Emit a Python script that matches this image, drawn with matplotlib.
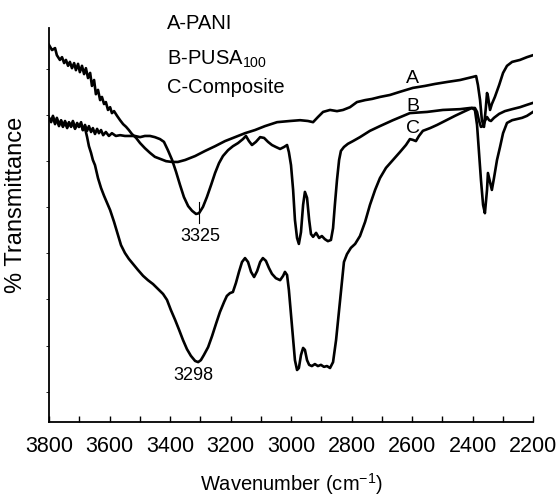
import numpy as np
import matplotlib
matplotlib.use('Agg')
import matplotlib.pyplot as plt

plt.rcParams['font.family'] = ['Liberation Sans', 'DejaVu Sans']
plt.rcParams['mathtext.default'] = 'regular'

# spectrum A - PANI (wavenumber cm-1, % transmittance, arbitrary offset)
wn_a = [3800, 3790, 3780, 3774, 3764, 3757, 3750, 3744, 3737, 3731, 3724, 3717, 3711, 3704,
        3698, 3691, 3684, 3678, 3671, 3664, 3658, 3651, 3645, 3638, 3631, 3625, 3618, 3612,
        3605, 3598, 3592, 3585, 3575, 3565, 3555, 3545, 3536, 3526, 3512, 3499, 3483, 3466,
        3450, 3433, 3413, 3393, 3374, 3350, 3317, 3284, 3251, 3218, 3185, 3152, 3119, 3086,
        3046, 3003, 2970, 2944, 2927, 2911, 2894, 2871, 2848, 2828, 2805, 2782, 2755, 2732,
        2706, 2673, 2640, 2597, 2557, 2524, 2484, 2441, 2398, 2388, 2382, 2375, 2369, 2362,
        2356, 2352, 2349, 2342, 2336, 2326, 2312, 2299, 2286, 2269, 2243, 2220, 2200]
t_a = [95.7, 94.4, 94.9, 93.1, 91.9, 92.6, 91.1, 91.9, 90.4, 91.4, 89.8, 91.1, 89.3, 90.9,
       88.8, 90.4, 88.3, 89.8, 87.3, 88.6, 85.3, 86.8, 83.2, 84.3, 81.7, 82.5, 80.7, 81.2,
       79.2, 79.9, 78.4, 78.9, 77.7, 76.6, 75.6, 74.9, 74.1, 73.1, 72.1, 70.8, 69.5, 68.3,
       67.3, 66.8, 66.2, 66.0, 66.0, 66.5, 67.5, 68.8, 70.0, 71.3, 72.3, 73.3, 74.1, 75.1,
       76.1, 76.4, 76.6, 76.4, 76.1, 77.4, 78.7, 79.2, 78.9, 79.2, 79.9, 81.2, 81.7, 82.0,
       82.5, 83.0, 83.8, 84.8, 85.3, 85.8, 86.3, 86.8, 87.6, 87.8, 85.5, 81.7, 76.6, 74.9,
       79.7, 83.5, 82.7, 79.2, 80.7, 82.5, 85.5, 88.6, 90.4, 91.4, 91.9, 92.6, 93.1]

# spectrum B - PUSA100
wn_b = [3800, 3793, 3787, 3780, 3774, 3767, 3760, 3754, 3747, 3740, 3734, 3727, 3721, 3714,
        3707, 3701, 3694, 3688, 3681, 3674, 3668, 3661, 3655, 3648, 3641, 3635, 3628, 3621,
        3612, 3602, 3592, 3579, 3565, 3549, 3532, 3516, 3499, 3483, 3466, 3450, 3433, 3420,
        3407, 3393, 3380, 3367, 3354, 3340, 3327, 3314, 3304, 3291, 3278, 3264, 3251, 3238,
        3225, 3208, 3192, 3175, 3159, 3149, 3139, 3129, 3116, 3102, 3089, 3076, 3063, 3050,
        3036, 3023, 3013, 3007, 3000, 2993, 2987, 2980, 2974, 2967, 2960, 2954, 2947, 2940,
        2934, 2927, 2917, 2907, 2898, 2888, 2878, 2868, 2861, 2855, 2848, 2841, 2835, 2825,
        2812, 2795, 2772, 2739, 2706, 2663, 2607, 2550, 2498, 2441, 2408, 2392, 2385, 2379,
        2372, 2365, 2359, 2352, 2345, 2339, 2329, 2312, 2293, 2269, 2243, 2220, 2200]
t_b = [77.2, 76.1, 77.7, 75.6, 76.9, 75.1, 76.4, 74.9, 76.1, 74.6, 75.9, 74.9, 76.1, 74.4,
       75.6, 74.9, 76.1, 74.1, 75.4, 73.9, 75.1, 73.6, 74.6, 73.1, 74.4, 73.3, 74.1, 72.8,
       73.6, 72.6, 73.3, 72.6, 72.8, 72.6, 72.6, 72.6, 72.3, 72.6, 72.6, 72.3, 71.8, 71.1,
       69.0, 66.5, 63.5, 60.2, 57.1, 54.8, 53.6, 52.8, 53.0, 54.6, 57.1, 60.2, 63.2, 65.7,
       67.5, 69.0, 70.0, 70.8, 71.8, 72.6, 71.3, 70.3, 71.1, 72.3, 72.1, 71.1, 70.3, 69.8,
       69.3, 69.8, 70.3, 68.5, 65.2, 58.9, 51.3, 46.7, 45.2, 48.2, 55.1, 58.4, 56.9, 51.3,
       47.7, 47.0, 48.0, 46.7, 47.2, 46.4, 45.9, 46.2, 49.2, 55.1, 61.4, 66.5, 68.8, 69.8,
       70.6, 71.3, 72.3, 73.9, 75.1, 76.6, 78.4, 78.7, 79.2, 79.4, 79.7, 79.7, 78.7, 76.6,
       74.9, 75.1, 76.4, 77.4, 76.6, 76.4, 77.2, 78.2, 78.9, 79.4, 79.9, 80.5, 81.0]

# spectrum C - composite
wn_c = [3800, 3793, 3787, 3780, 3774, 3767, 3760, 3754, 3747, 3740, 3734, 3727, 3721, 3714,
        3707, 3701, 3694, 3688, 3681, 3674, 3668, 3661, 3655, 3648, 3638, 3628, 3618, 3608,
        3598, 3585, 3572, 3562, 3549, 3536, 3522, 3506, 3489, 3473, 3456, 3440, 3423, 3410,
        3397, 3383, 3370, 3357, 3344, 3331, 3317, 3307, 3298, 3288, 3274, 3261, 3248, 3235,
        3221, 3212, 3202, 3192, 3182, 3172, 3162, 3152, 3142, 3132, 3122, 3112, 3102, 3093,
        3083, 3073, 3063, 3050, 3036, 3026, 3020, 3013, 3007, 3000, 2993, 2987, 2980, 2974,
        2967, 2960, 2954, 2947, 2940, 2931, 2921, 2911, 2901, 2891, 2881, 2871, 2861, 2851,
        2841, 2831, 2825, 2815, 2802, 2788, 2772, 2755, 2739, 2722, 2706, 2686, 2663, 2640,
        2620, 2607, 2597, 2587, 2577, 2564, 2540, 2517, 2491, 2458, 2425, 2402, 2392, 2385,
        2379, 2372, 2365, 2359, 2352, 2349, 2342, 2336, 2329, 2319, 2309, 2299, 2286, 2269,
        2253, 2236, 2220, 2200]
t_c = [77.2, 76.4, 77.4, 75.9, 77.2, 75.4, 76.6, 75.1, 76.4, 74.9, 76.1, 75.1, 76.4, 74.6,
       75.9, 74.9, 75.6, 74.1, 74.6, 72.3, 70.0, 68.3, 66.5, 65.2, 61.9, 59.4, 57.4, 55.6,
       53.8, 50.8, 47.5, 44.9, 42.9, 41.4, 40.1, 38.6, 37.1, 36.0, 35.0, 33.8, 32.5, 31.0,
       28.4, 25.9, 23.4, 20.8, 18.5, 16.8, 15.5, 15.2, 15.7, 17.0, 19.0, 21.8, 24.9, 27.9,
       30.5, 32.0, 32.7, 33.0, 35.3, 38.1, 40.6, 41.6, 40.6, 38.1, 36.8, 38.3, 40.6, 41.6,
       40.9, 39.1, 37.6, 36.5, 36.0, 37.1, 38.1, 37.3, 33.5, 27.2, 20.8, 15.7, 13.2, 13.7,
       17.0, 18.8, 18.3, 15.7, 14.5, 14.2, 14.7, 14.2, 14.5, 14.0, 14.2, 13.7, 15.2, 20.8,
       28.4, 36.0, 40.6, 42.6, 44.2, 45.2, 47.2, 50.8, 55.1, 58.9, 61.9, 64.5, 66.5, 68.5,
       70.3, 71.8, 71.6, 71.3, 72.6, 73.9, 74.6, 75.4, 76.4, 77.7, 78.9, 79.7, 79.2, 75.4,
       69.0, 61.4, 55.1, 53.0, 58.9, 63.2, 60.9, 58.9, 61.9, 66.5, 69.8, 73.3, 75.9, 76.6,
       76.9, 77.2, 77.7, 78.7]

# peak annotations
peak_labels = ['3325', '3298']
peak_wn = [3300, 3324]
peak_t = [47.0, 11.9]
mark_wn = 3304
mark_t = [55.8, 50.5]

# curve letters
curve_names = ['A', 'B', 'C']
curve_name_t = [87.3, 80.0, 74.6]
curve_name_wn = 2597

legend_lines = ['A-PANI', 'B-PUSA$_{100}$', 'C-Composite']
legend_t = [99.7, 90.6, 83.5]
legend_wn = 3410

fig = plt.figure(figsize=(5.58, 4.96), dpi=100)
ax = fig.add_axes([49 / 558, 74 / 496, 484 / 558, 394 / 496])

for wn, t in [(wn_a, t_a), (wn_b, t_b), (wn_c, t_c)]:
    ax.plot(wn, t, color='black', lw=1.9, solid_joinstyle='round')

ax.plot([mark_wn, mark_wn], mark_t, color='black', lw=0.8)
for lab, x, y in zip(peak_labels, peak_wn, peak_t):
    ax.text(x, y, lab, ha='center', va='center', fontsize=13)

for lab, y in zip(curve_names, curve_name_t):
    ax.text(curve_name_wn, y, lab, ha='center', va='center', fontsize=14)

for lab, y in zip(legend_lines, legend_t):
    ax.text(legend_wn, y, lab, ha='left', va='baseline', fontsize=14.5, clip_on=False)

ax.set_xlim(3800, 2200)
ax.set_ylim(0, 100)
ax.set_xticks(np.arange(3800, 2199, -200))
ax.set_xticks(np.arange(3700, 2200, -200), minor=True)
ax.set_yticks(np.arange(7.7, 100, 11.7))
ax.set_yticklabels([])
ax.tick_params(axis='x', which='both', direction='in', length=4.5, width=1, labelsize=15.5, pad=10)
ax.tick_params(axis='y', direction='out', length=2, width=0.6)

for s in ['top', 'right']:
    ax.spines[s].set_visible(False)
for s in ['left', 'bottom']:
    ax.spines[s].set_linewidth(1.3)

ax.set_xlabel('Wavenumber (cm$^{-1}$)', fontsize=14.5, labelpad=10)
ax.set_ylabel('% Transmittance', fontsize=17)
ax.yaxis.set_label_coords(-0.045, 0.55)

plt.savefig('out.png', dpi=100)
